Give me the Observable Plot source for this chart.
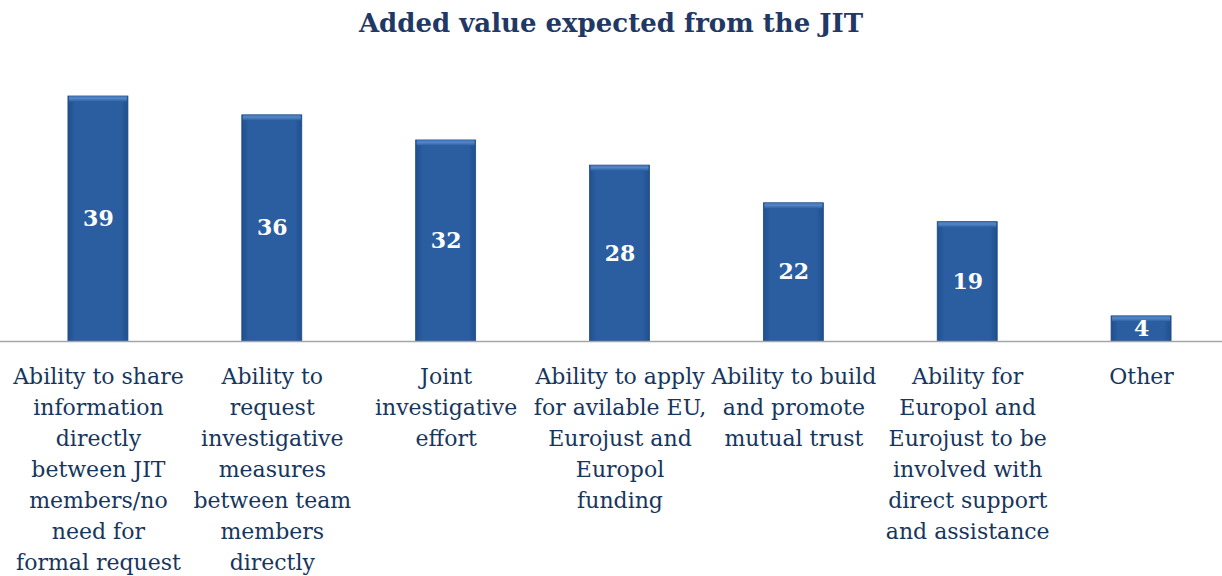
<!DOCTYPE html>
<html>
<head>
<meta charset="utf-8">
<script src="https://cdn.jsdelivr.net/npm/d3@7"></script>
<script src="https://cdn.jsdelivr.net/npm/@observablehq/plot@0.6"></script>
<style>
  body { margin: 0; background: #fff; }
  #title { height: 50px; margin: 0; text-align: center; font-family: "DejaVu Serif", serif; font-weight: bold; font-size: 26px; color: #1F3864; line-height: 46px; }
  #chart svg { display: block; overflow: visible; }
</style>
</head>
<body>
<div id="title">Added value expected from the JIT</div>
<div id="chart"></div>
<script>
const categories = [
  "Ability to share\ninformation\ndirectly\nbetween JIT\nmembers/no\nneed for\nformal request",
  "Ability to\nrequest\ninvestigative\nmeasures\nbetween team\nmembers\ndirectly",
  "Joint\ninvestigative\neffort",
  "Ability to apply\nfor avilable EU,\nEurojust and\nEuropol\nfunding",
  "Ability to build\nand promote\nmutual trust",
  "Ability for\nEuropol and\nEurojust to be\ninvolved with\ndirect support\nand assistance",
  "Other"
];
const values = [39, 36, 32, 28, 22, 19, 4];

const data = categories.map((c, i) => ({category: c, value: values[i]}));

const chart = Plot.plot({
  width: 1222,
  height: 526,
  marginLeft: 0,
  marginRight: 0,
  marginTop: 46,
  marginBottom: 235,
  style: {background: "transparent", overflow: "visible"},
  x: {domain: categories, range: [11, 1228], paddingInner: 0.655, paddingOuter: 0.3275, round: false, label: null},
  y: {domain: [0, 39], axis: null},
  marks: [
    Plot.barY(data, {x: "category", y: "value", fill: "url(#barGrad)", stroke: "#1E4A80", strokeWidth: 0.8}),
    Plot.barY(data, {x: "category", y1: d => d.value - 0.9, y2: "value", fill: "url(#topGrad)", insetLeft: 1, insetRight: 1}),
    Plot.ruleY([0], {stroke: "#A6A6A6", strokeWidth: 1.5}),
    Plot.axisX({
      tickSize: 0,
      tickPadding: 20,
      fontSize: 22,
      lineHeight: 1.41,
      textOverflow: null,
      fill: "#17365D",
      fontFamily: "DejaVu Serif, serif",
      label: null
    }),
    Plot.text(data, {
      x: "category",
      y: d => d.value / 2,
      text: d => String(d.value),
      fill: "white",
      fontSize: 22,
      fontWeight: "bold",
      fontFamily: "DejaVu Serif, serif"
    })
  ]
});

// gradient defs for bar shading
const svg = d3.select(chart);
const defs = svg.insert("defs", ":first-child");
const g = defs.append("linearGradient").attr("id", "barGrad").attr("x1", "0").attr("x2", "1").attr("y1", "0").attr("y2", "0");
g.append("stop").attr("offset", "0%").attr("stop-color", "#1F4F8E");
g.append("stop").attr("offset", "12%").attr("stop-color", "#2B5EA0");
g.append("stop").attr("offset", "88%").attr("stop-color", "#2B5EA0");
g.append("stop").attr("offset", "100%").attr("stop-color", "#1F4F8E");
const t = defs.append("linearGradient").attr("id", "topGrad").attr("x1", "0").attr("x2", "0").attr("y1", "0").attr("y2", "1");
t.append("stop").attr("offset", "0%").attr("stop-color", "#3A6DB0");
t.append("stop").attr("offset", "40%").attr("stop-color", "#5588C8");
t.append("stop").attr("offset", "100%").attr("stop-color", "#2B5EA0");

document.getElementById("chart").appendChild(chart);
</script>
</body>
</html>
